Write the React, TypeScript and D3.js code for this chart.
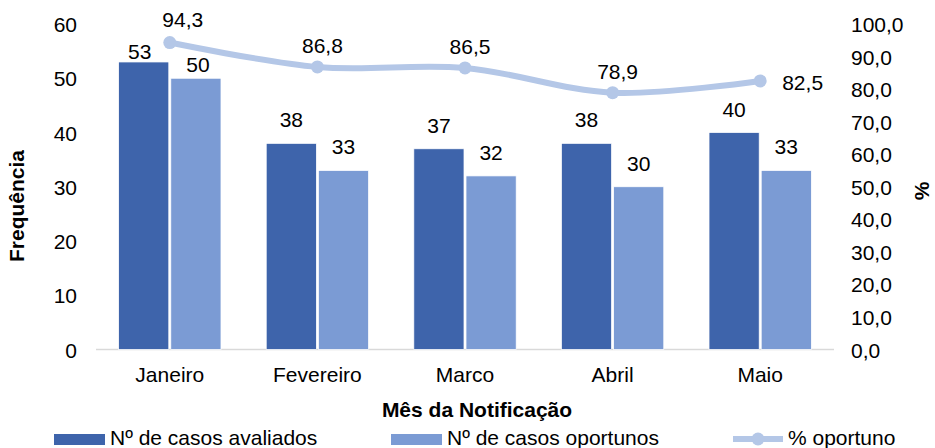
import React from "react";
import * as d3 from "d3";

const months = ["Janeiro", "Fevereiro", "Marco", "Abril", "Maio"];
const avaliados = [53, 38, 37, 38, 40];
const oportunos = [50, 33, 32, 30, 33];
const pctOportuno = [94.3, 86.8, 86.5, 78.9, 82.5];
const leftTicks = [0, 10, 20, 30, 40, 50, 60];
const rightTicks = [0, 10, 20, 30, 40, 50, 60, 70, 80, 90, 100];
const seriesNames = ["Nº de casos avaliados", "Nº de casos oportunos", "% oportuno"];

const W = 935;
const H = 448;
const C_DARK = "#3e64ab";
const C_LIGHT = "#7b9bd4";
const C_LINE = "#b4c7e7";
const FONT = "'Liberation Sans', Arial, sans-serif";
const FS = 21;

export default function App() {
  const x = d3.scaleBand<string>().domain(months).range([96, 834]).padding(0);
  const yL = d3.scaleLinear().domain([0, 60]).range([349.5, 24]);
  const yR = d3.scaleLinear().domain([0, 100]).range([349.5, 24]);
  const bw = x.bandwidth() * 0.34;
  const cx = (m: string) => (x(m) as number) + x.bandwidth() / 2;
  const fmt = (v: number) => v.toFixed(1).replace(".", ",");

  const line = d3
    .line<number>()
    .x((_, i) => cx(months[i]))
    .y((d) => yR(d))
    .curve(d3.curveCatmullRom.alpha(0.5));

  // label tweaks (relative to computed positions)
  const barLblGap = (s: number, i: number) => (i === 0 ? (s === 0 ? 3 : 6) : 16);
  const barLblDx = (s: number, i: number) => (i === 0 ? (s === 0 ? -4 : 2) : 0);

  return (
    <svg width={W} height={H} style={{ display: "block", position: "absolute", left: 0, top: 0 }} fontFamily={FONT}>
      <rect width={W} height={H} fill="#fff" />
      {/* baseline */}
      <line x1={96} x2={834} y1={yL(0)} y2={yL(0)} stroke="#d9d9d9" strokeWidth={1.5} />
      {/* bars */}
      {months.map((m, i) => (
        <g key={m}>
          <rect x={cx(m) - bw - 1} y={yL(avaliados[i])} width={bw} height={yL(0) - yL(avaliados[i])} fill={C_DARK} stroke="#fff" strokeWidth={0.75} />
          <rect x={cx(m) + 1} y={yL(oportunos[i])} width={bw} height={yL(0) - yL(oportunos[i])} fill={C_LIGHT} stroke="#fff" strokeWidth={0.75} />
          <text x={cx(m) - bw / 2 - 1 + barLblDx(0, i)} y={yL(avaliados[i]) - barLblGap(0, i)} textAnchor="middle" fontSize={FS} fill="#000">
            {avaliados[i]}
          </text>
          <text x={cx(m) + bw / 2 + 1 + barLblDx(1, i)} y={yL(oportunos[i]) - barLblGap(1, i)} textAnchor="middle" fontSize={FS} fill="#000">
            {oportunos[i]}
          </text>
        </g>
      ))}
      {/* line */}
      <path d={line(pctOportuno) || ""} fill="none" stroke={C_LINE} strokeWidth={6} strokeLinecap="round" />
      {pctOportuno.map((v, i) => (
        <circle key={i} cx={cx(months[i])} cy={yR(v)} r={6.5} fill={C_LINE} />
      ))}
      {pctOportuno.map((v, i) => {
        const px = cx(months[i]);
        const py = yR(v);
        if (i === months.length - 1) {
          return (
            <text key={i} x={px + 22} y={py + 9} fontSize={FS} fill="#000">
              {fmt(v)}
            </text>
          );
        }
        const dx = i === 0 ? 13 : 5;
        const dy = i === 0 ? -16 : -14;
        return (
          <text key={i} x={px + dx} y={py + dy} textAnchor="middle" fontSize={FS} fill="#000">
            {fmt(v)}
          </text>
        );
      })}
      {/* left axis */}
      {leftTicks.map((t) => (
        <text key={t} x={77} y={yL(t) + 8} textAnchor="end" fontSize={FS} fill="#000">
          {t}
        </text>
      ))}
      {/* right axis */}
      {rightTicks.map((t) => (
        <text key={t} x={851} y={yR(t) + 8} textAnchor="start" fontSize={FS} fill="#000">
          {fmt(t)}
        </text>
      ))}
      {/* category labels */}
      {months.map((m) => (
        <text key={m} x={cx(m)} y={382} textAnchor="middle" fontSize={FS} fill="#000">
          {m}
        </text>
      ))}
      {/* axis titles */}
      <text x={477} y={417} textAnchor="middle" fontSize={FS} fontWeight="bold" fill="#000">
        Mês da Notificação
      </text>
      <text transform={`translate(24,206) rotate(-90)`} textAnchor="middle" fontSize={FS} fontWeight="bold" fill="#000">
        Frequência
      </text>
      <text transform={`translate(929,191) rotate(-90)`} textAnchor="middle" fontSize={FS} fontWeight="bold" fill="#000">
        %
      </text>
      {/* legend */}
      <rect x={54} y={434} width={51} height={11} fill={C_DARK} />
      <text x={110} y={445} fontSize={FS} fill="#000">{seriesNames[0]}</text>
      <rect x={391} y={434} width={51} height={11} fill={C_LIGHT} />
      <text x={447} y={445} fontSize={FS} fill="#000">{seriesNames[1]}</text>
      <line x1={733} x2={783} y1={439} y2={439} stroke={C_LINE} strokeWidth={6} />
      <circle cx={758} cy={439} r={6.5} fill={C_LINE} />
      <text x={788} y={445} fontSize={FS} fill="#000">{seriesNames[2]}</text>
    </svg>
  );
}
